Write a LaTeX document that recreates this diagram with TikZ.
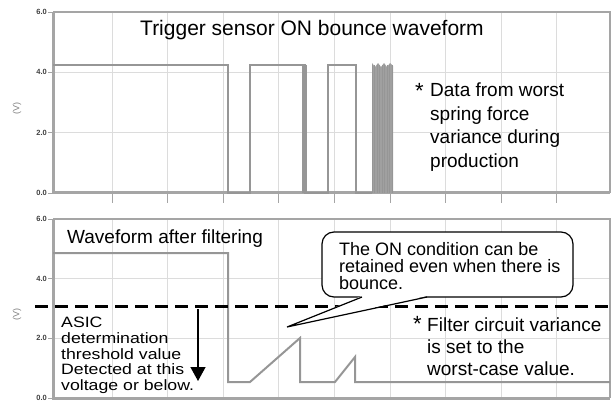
\documentclass[tikz,border=0pt]{standalone}
\usepackage{fontspec}
\setmainfont{Liberation Sans}
\newfontfamily\widesans[FakeStretch=1.18]{Liberation Sans}
\usetikzlibrary{arrows.meta}
\definecolor{cwave}{RGB}{150,150,150}
\definecolor{cframe}{RGB}{165,165,165}
\definecolor{cgrid}{RGB}{220,220,220}
\tikzset{scopepx/.style={x=1pt,y=-1pt}}
\tikzset{wave/.style={cwave,line width=2pt},
         frameline/.style={cframe,line width=1.5pt},
         axisline/.style={cframe,line width=3pt},
         gridline/.style={cgrid,line width=0.8pt},
         ticklab/.style={anchor=east,inner sep=1pt,text=black!75,font=\fontsize{7.5}{7.5}\selectfont\bfseries},
         unitlab/.style={rotate=90,text=black!50,font=\fontsize{9}{9}\selectfont},
         note/.style={anchor=north west,align=left,inner sep=0pt,font=\fontsize{19}{23.5}\selectfont},
         astmark/.style={anchor=base west,inner sep=0pt,font=\fontsize{22}{22}\selectfont},
         threshold/.style={black,line width=3pt,dash pattern=on 13pt off 7pt}}

\begin{document}
\begin{tikzpicture}[scopepx]
    \useasboundingbox (0,0) rectangle (612,403);
    % both panels: grid, frame, scale
    \foreach \top/\bot in {12/193, 219/398} {
      \foreach \x in {112,167.6,...,560} \draw[gridline] (\x,\top) -- (\x,\bot);
      \draw[gridline] (53,{\top+(\bot-\top)/3}) -- (610,{\top+(\bot-\top)/3});
      \draw[gridline] (53,{\top+2*(\bot-\top)/3}) -- (610,{\top+2*(\bot-\top)/3});
      \draw[frameline] (53,\top) -- (610,\top) -- (610,\bot);
      \draw[axisline] (53,\top) -- (53,\bot) -- (610,\bot);
      \foreach \v/\f in {6.0/0, 4.0/1, 2.0/2, 0.0/3} {
        \draw[cframe] (48,{\top+\f*(\bot-\top)/3}) -- (53,{\top+\f*(\bot-\top)/3});
        \node[ticklab] at (48,{\top+\f*(\bot-\top)/3}) {\v};
      }
      \node[unitlab] at (17,{(\top+\bot)/2+6}) {(V)};
    }
    \foreach \x in {112,167.6,...,560} \draw[cframe,line width=1pt] (\x,193) -- (\x,203);

    % sensor waveform
    \draw[wave] (53,65) -- (228,65) -- (228,193) -- (250,193) -- (250,65) -- (305,65)
      -- (305,193) -- (328,193) -- (328,65) -- (356,65) -- (356,193) -- (372,193);
    \foreach \x in {302,303.5,...,307} \draw[wave,line width=1pt] (\x,65) -- (\x,193);
    \fill[cwave!90] (372,193) -- (372,63) -- (375,67) -- (378,63) -- (381,67) -- (384,63)
      -- (387,67) -- (390,63) -- (393,66) -- (393,193) -- cycle;
    \foreach \x in {372,374.5,...,393} \draw[wave,line width=1pt] (\x,65) -- (\x,193);

    % filtered waveform
    \draw[wave] (53,253) -- (228,253) -- (228,382) -- (250,382) -- (300,338) -- (300,382)
      -- (335,382) -- (355,357) -- (355,382) -- (610,382);

    \node[anchor=base west,inner sep=0pt,font=\fontsize{21}{25}\selectfont] (title) at (140,36)
      {Trigger sensor ON bounce waveform};
    \node[astmark] (dataast) at (415,98.3) {*};
    \node[note] (datanote) at (430,83) {Data from worst\\spring force\\variance during\\production};
    \node[anchor=base west,inner sep=0pt,font=\fontsize{19}{23}\selectfont] (filtertitle) at (67,243)
      {Waveform after filtering};

    % threshold
    \coordinate (thrL) at (35,306);
    \coordinate (thrR) at (612,306);
    \draw[threshold] (thrL) -- (thrR);
    \coordinate (arrtop) at (198,309);
    \coordinate (arrbot) at (198,381);
    \draw[line width=1.3pt,-{Triangle[width=15pt,length=14pt]}] (arrtop) -- (arrbot);
    \node[anchor=north west,align=left,inner sep=0pt,font=\widesans\fontsize{15}{15.7}\selectfont]
      (asicnote) at (61,317) {ASIC\\determination\\threshold value\\Detected at this\\voltage or below.};

    % callout
    \node[draw,fill=white,line width=1.2pt,rounded corners=12pt,minimum width=251pt,
      minimum height=65pt] (callbox) at (447.5,264.5) {};
    \coordinate (ptrA) at (362,297);
    \coordinate (ptrB) at (427,297);
    \coordinate (calltip) at (287,327);
    \fill[white] ([yshift=1pt]ptrA) -- (calltip) -- ([yshift=1pt]ptrB) -- cycle;
    \draw[line width=1.2pt,line join=miter] (ptrA) -- (calltip) -- (ptrB);
    \node[anchor=north west,align=left,inner sep=0pt,font=\fontsize{18}{17}\selectfont]
      (calltext) at (339,242) {The ON condition can be\\retained even when there is\\bounce.};

    \node[astmark] (filterast) at (413,331.5) {*};
    \node[note,font=\fontsize{19}{21.7}\selectfont] (filternote) at (427,318)
      {Filter circuit variance\\is set to the\\worst-case value.};
\end{tikzpicture}
\end{document}
